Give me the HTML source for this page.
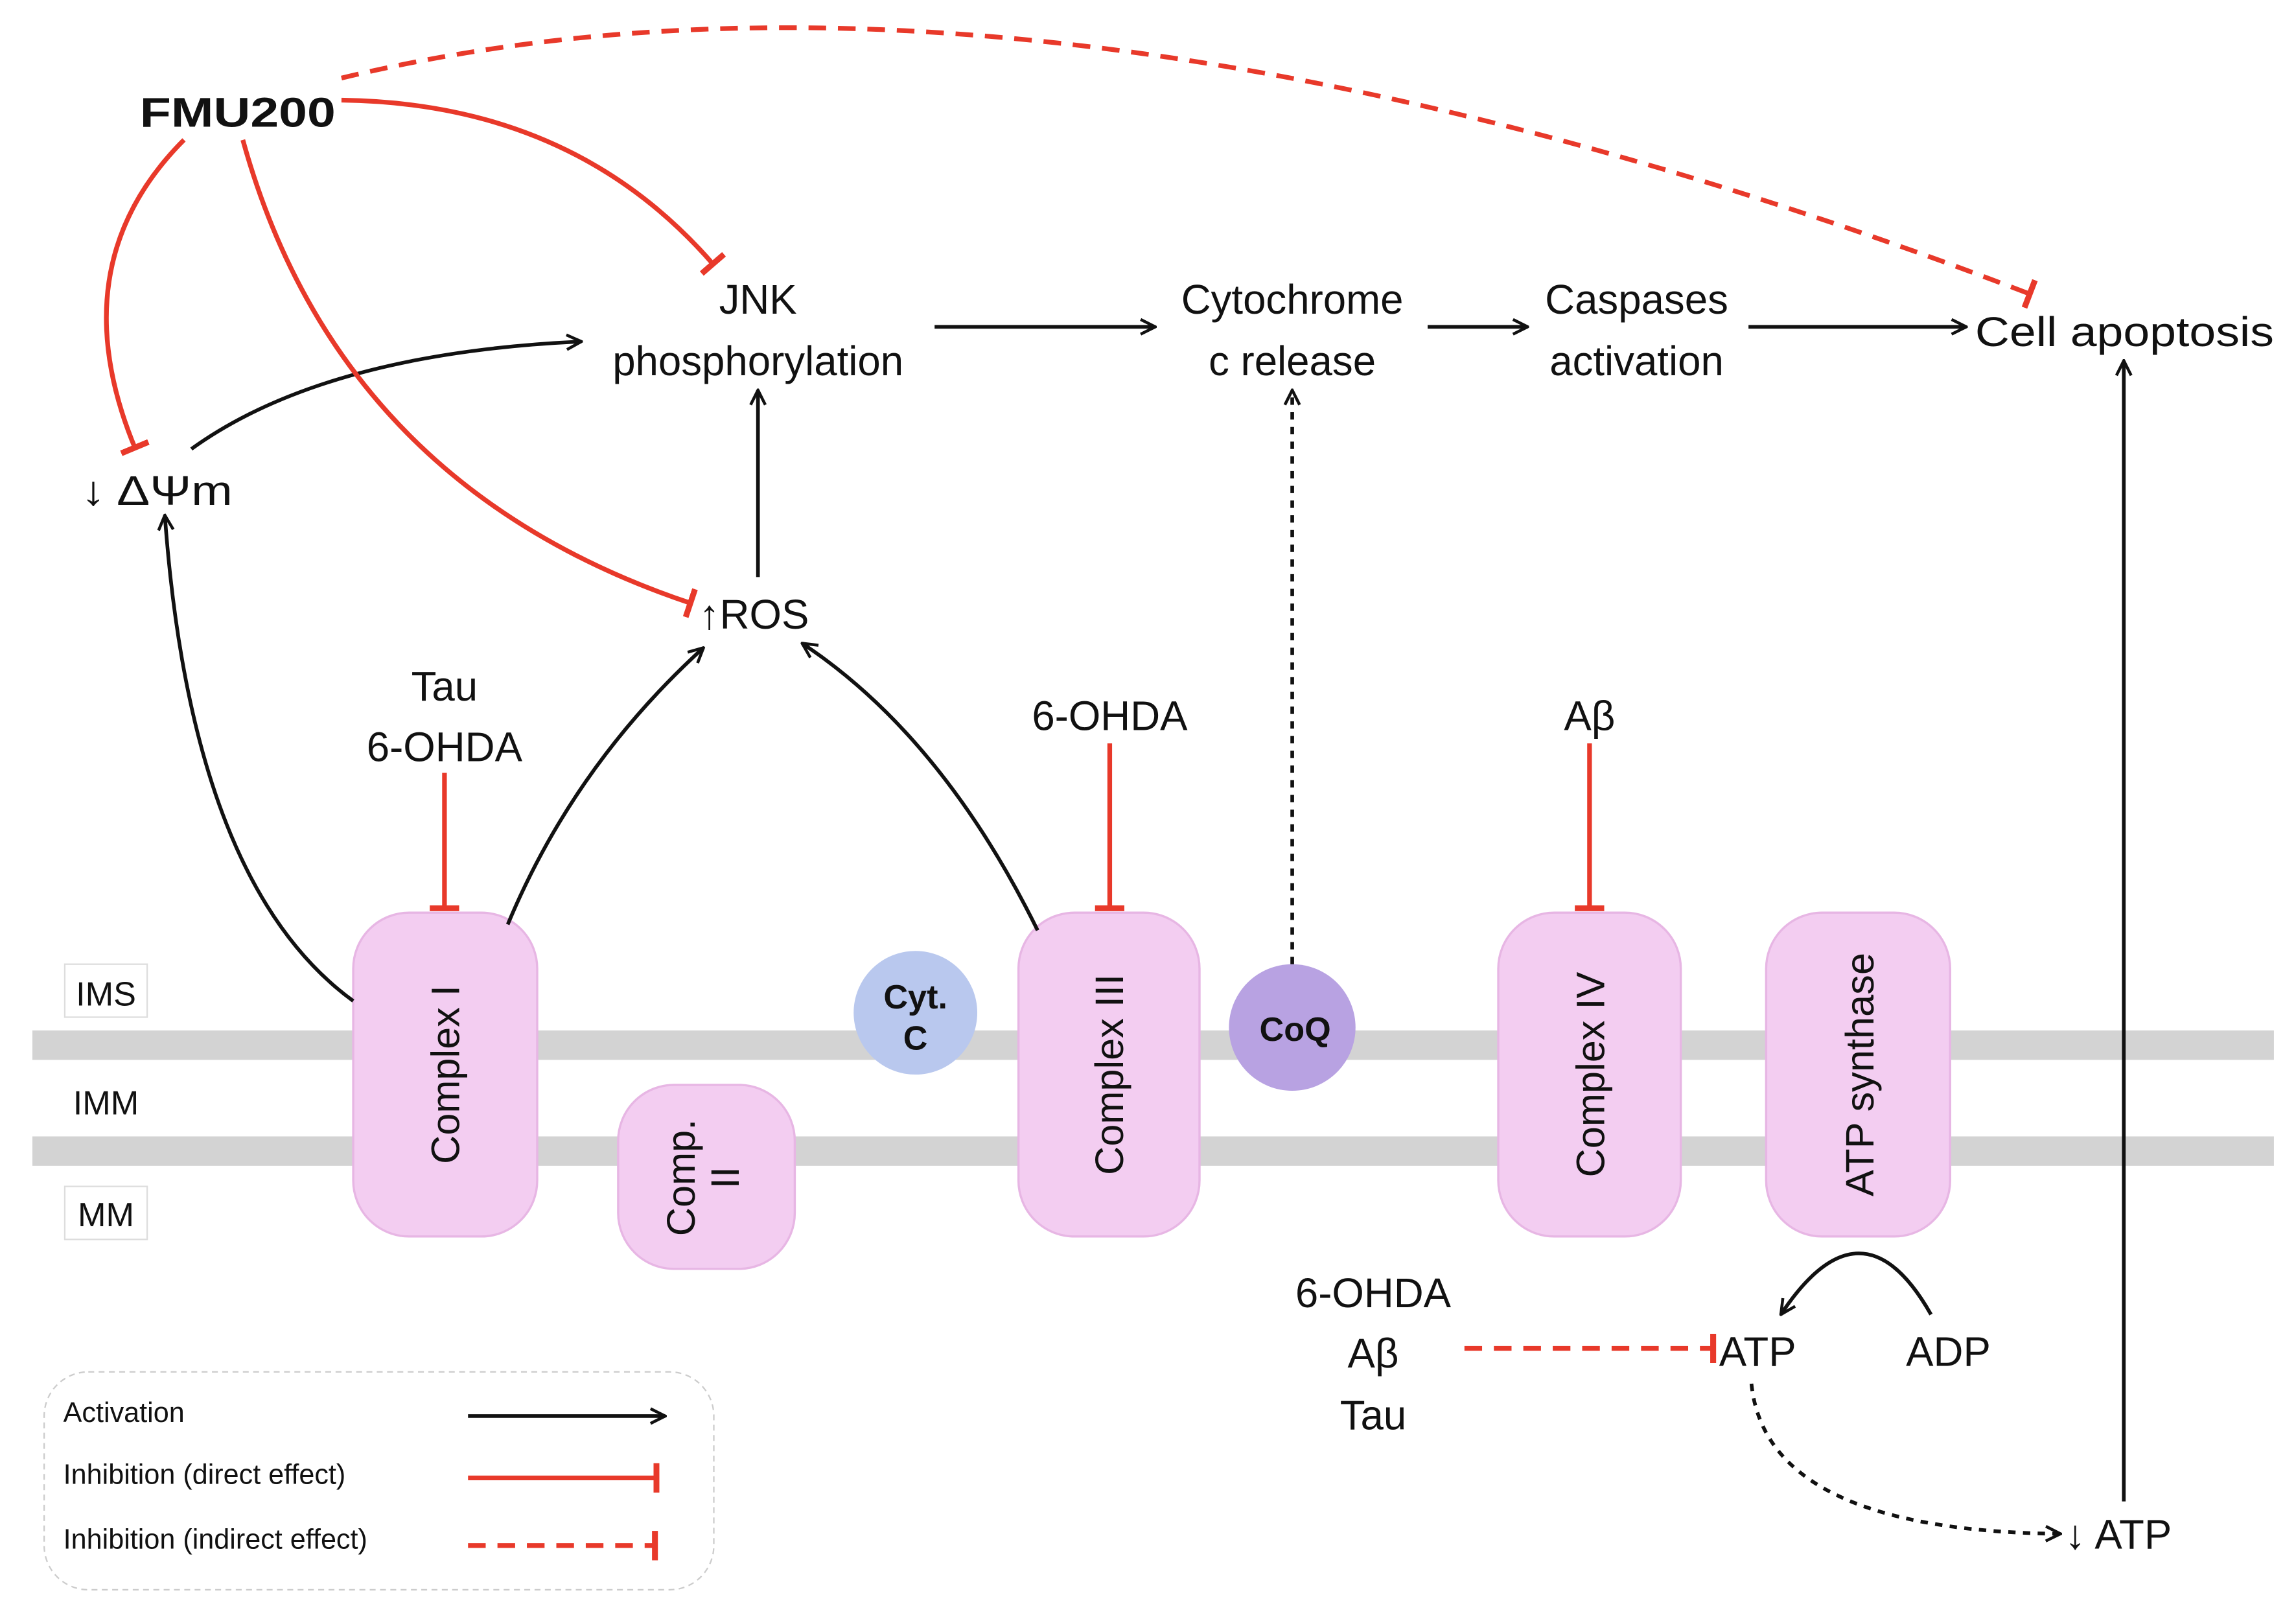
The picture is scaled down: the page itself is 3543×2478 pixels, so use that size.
<!DOCTYPE html>
<html><head><meta charset="utf-8"><style>html,body{margin:0;padding:0;background:#fff}svg{display:block}text{font-family:"Liberation Sans",sans-serif;fill:#111}</style></head><body>
<svg width="3543" height="2478" viewBox="0 0 1560 1091" xmlns="http://www.w3.org/2000/svg">
<defs>
<marker id="a" viewBox="0 0 12 12" refX="11" refY="6" markerWidth="12" markerHeight="12" markerUnits="userSpaceOnUse" orient="auto"><path d="M1,1 L11,6 L1,11" fill="none" stroke="#111" stroke-width="2"/></marker>
<marker id="t" viewBox="0 0 6 20" refX="3" refY="10" markerWidth="6" markerHeight="20" markerUnits="userSpaceOnUse" orient="auto"><rect x="0" y="0" width="4" height="20" fill="#e8392a"/></marker>
</defs>
<rect x="22" y="700" width="1523" height="20" fill="#d3d3d3"/>
<rect x="22" y="772" width="1523" height="20" fill="#d3d3d3"/>
<g font-size="23">
<rect x="44" y="655" width="56" height="36" fill="#fff" stroke="#ddd"/><text x="72" y="683" text-anchor="middle">IMS</text>
<text x="72" y="757" text-anchor="middle">IMM</text>
<rect x="44" y="806" width="56" height="36" fill="#fff" stroke="#ddd"/><text x="72" y="833" text-anchor="middle">MM</text>
</g>
<g fill="#f3cdf1" stroke="#e7b6e4" stroke-width="1.5">
<rect x="240" y="620" width="125" height="220" rx="38"/>
<rect x="420" y="737" width="120" height="125" rx="38"/>
<rect x="692" y="620" width="123" height="220" rx="38"/>
<rect x="1018" y="620" width="124" height="220" rx="38"/>
<rect x="1200" y="620" width="125" height="220" rx="38"/>
</g>
<circle cx="622" cy="688" r="42" fill="#b9c8ee"/>
<circle cx="878" cy="698" r="43" fill="#b8a2e2"/>
<g font-size="27">
<text transform="translate(312,730) rotate(-90)" text-anchor="middle">Complex I</text>
<text transform="translate(763,730) rotate(-90)" text-anchor="middle">Complex III</text>
<text transform="translate(1090,730) rotate(-90)" text-anchor="middle">Complex IV</text>
<text transform="translate(1273,730) rotate(-90)" text-anchor="middle">ATP synthase</text>
<text transform="translate(472,800) rotate(-90)" text-anchor="middle">Comp.</text>
<text transform="translate(502,800) rotate(-90)" text-anchor="middle">II</text>
</g>
<g font-size="23" font-weight="bold"><text x="622" y="685" text-anchor="middle">Cyt.</text><text x="622" y="713" text-anchor="middle">C</text><text x="880" y="707" text-anchor="middle">CoQ</text></g>
<g font-size="28">
<text x="95" y="86" font-weight="bold" textLength="133" lengthAdjust="spacingAndGlyphs">FMU200</text>
<text x="515" y="213" text-anchor="middle">JNK</text><text x="515" y="255" text-anchor="middle">phosphorylation</text>
<text x="878" y="213" text-anchor="middle">Cytochrome</text><text x="878" y="255" text-anchor="middle">c release</text>
<text x="1112" y="213" text-anchor="middle">Caspases</text><text x="1112" y="255" text-anchor="middle">activation</text>
<text x="1342" y="235" textLength="203" lengthAdjust="spacingAndGlyphs">Cell apoptosis</text>
<text x="55" y="343" textLength="103" lengthAdjust="spacingAndGlyphs">↓ ΔΨm</text>
<text x="475" y="427">↑ROS</text>
<text x="302" y="476" text-anchor="middle">Tau</text><text x="302" y="517" text-anchor="middle">6-OHDA</text>
<text x="754" y="496" text-anchor="middle">6-OHDA</text>
<text x="1080" y="496" text-anchor="middle">Aβ</text>
<text x="933" y="888" text-anchor="middle">6-OHDA</text><text x="933" y="929" text-anchor="middle">Aβ</text><text x="933" y="971" text-anchor="middle">Tau</text>
<text x="1168" y="928">ATP</text><text x="1295" y="928">ADP</text>
<text x="1403" y="1052">↓ ATP</text>
</g>
<g fill="none" stroke="#111" stroke-width="2.5" marker-end="url(#a)">
<path d="M635,222 L785,222"/><path d="M970,222 L1038,222"/><path d="M1188,222 L1336,222"/>
<path d="M130,305 Q220,240 395,232"/>
<path d="M515,392 L515,265"/>
<path d="M240,680 Q130,600 112,350"/>
<path d="M345,628 Q390,520 478,440"/>
<path d="M705,632 Q640,500 545,437"/>
<path d="M1312,893 Q1265,810 1210,893"/>
<path d="M1443,1020 L1443,245"/>
<path d="M878,655 L878,265" stroke-dasharray="5,5"/>
<path d="M1190,940 Q1200,1040 1400,1042" stroke-dasharray="5,5"/>
</g>
<g fill="none" stroke="#e8392a" stroke-width="3.2" marker-end="url(#t)">
<path d="M232,68 Q390,70 485,180"/>
<path d="M125,95 Q40,180 92,305"/>
<path d="M165,95 Q230,330 470,410"/>
<path d="M302,525 L302,618"/><path d="M754,505 L754,618"/><path d="M1080,505 L1080,618"/>
<path d="M232,53 Q700,-60 1380,200" stroke-dasharray="12,8"/>
<path d="M995,916 L1165,916" stroke-dasharray="12,8"/>
</g>
<rect x="30" y="932" width="455" height="148" rx="30" fill="none" stroke="#ccc" stroke-dasharray="4,3"/>
<g font-size="19"><text x="43" y="966">Activation</text><text x="43" y="1008">Inhibition (direct effect)</text><text x="43" y="1052">Inhibition (indirect effect)</text></g>
<path d="M318,962 L452,962" stroke="#111" stroke-width="2.5" marker-end="url(#a)"/>
<path d="M318,1004 L447,1004" stroke="#e8392a" stroke-width="3.2" marker-end="url(#t)"/>
<path d="M318,1050 L446,1050" stroke="#e8392a" stroke-width="3.2" stroke-dasharray="12,8" marker-end="url(#t)"/>
</svg>
</body></html>
